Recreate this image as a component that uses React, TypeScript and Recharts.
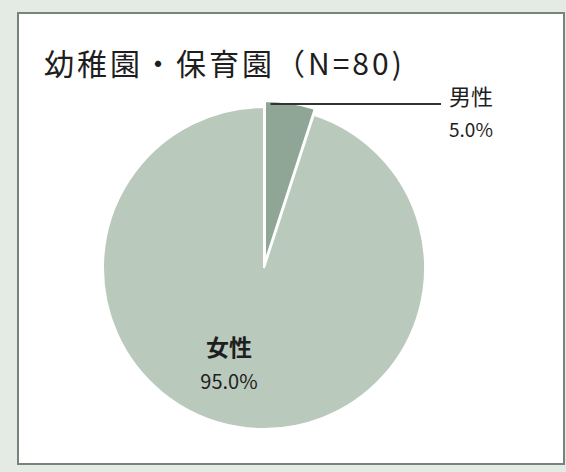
import { PieChart, Pie, Cell } from "recharts";

const categories = ["男性", "女性"];
const shares = [5.0, 95.0];
const title = "幼稚園・保育園（N=80)";

const colors = ["#8fa697", "#b9c9bc"];
const font = "'Noto Sans CJK JP', 'Noto Sans', sans-serif";

const data = categories.map((name, i) => ({ name, value: shares[i] }));

const RAD = Math.PI / 180;

function renderLabel(props: any) {
  const { cx, cy, outerRadius, startAngle, index, name, value } = props;
  if (index === 0) {
    const a = (startAngle - 2) * RAD;
    const sx = cx + (outerRadius - 3) * Math.cos(a);
    const sy = cy - (outerRadius - 3) * Math.sin(a);
    const ex = cx + 176;
    return (
      <g>
        <line x1={sx} y1={sy} x2={ex} y2={sy} stroke="#333" strokeWidth={2} />
        <text x={ex + 8} y={sy + 1} fontSize={22} fill="#1e1e1e" fontFamily={font}>
          {name}
        </text>
        <text x={ex + 8} y={sy + 33} fontSize={19} fill="#1e1e1e" fontFamily={font}>
          {value.toFixed(1)}%
        </text>
      </g>
    );
  }
  return (
    <g>
      <text x={cx - 36} y={cy + 94} fontSize={23} fontWeight={700} textAnchor="middle" fill="#1e1e1e" fontFamily={font}>
        {name}
      </text>
      <text x={cx - 36} y={cy + 127} fontSize={20} textAnchor="middle" fill="#1e1e1e" fontFamily={font}>
        {value.toFixed(1)}%
      </text>
    </g>
  );
}

export default function App() {
  return (
    <div style={{ position: "absolute", left: 0, top: 0, width: 566, height: 472, background: "#e4ebe5", overflow: "hidden" }}>
      <div
        style={{
          position: "absolute",
          left: 17,
          top: 12,
          width: 544,
          height: 449,
          background: "#ffffff",
          border: "2px solid #78847b",
        }}
      />
      <div
        style={{
          position: "absolute",
          left: 44,
          top: 40,
          fontFamily: font,
          fontSize: 30,
          color: "#1e1e1e",
          whiteSpace: "nowrap",
          letterSpacing: 3,
        }}
      >
        {title}
      </div>
      <div style={{ position: "absolute", left: 0, top: 0 }}>
        <PieChart width={566} height={472}>
          {/* female slice, in place */}
          <Pie
            data={data}
            dataKey="value"
            nameKey="name"
            cx={259}
            cy={263}
            outerRadius={161}
            startAngle={90}
            endAngle={-270}
            stroke="#ffffff"
            strokeWidth={2}
            isAnimationActive={false}
          >
            {data.map((d, i) => (
              <Cell key={d.name} fill={i === 0 ? "none" : colors[i]} stroke={i === 0 ? "none" : "#ffffff"} />
            ))}
          </Pie>
          {/* male slice, pulled out a little */}
          <Pie
            data={data}
            dataKey="value"
            nameKey="name"
            cx={260}
            cy={257}
            outerRadius={161}
            startAngle={90}
            endAngle={-270}
            stroke="#ffffff"
            strokeWidth={2}
            label={renderLabel}
            labelLine={false}
            isAnimationActive={false}
          >
            {data.map((d, i) => (
              <Cell key={d.name} fill={i === 0 ? colors[i] : "none"} stroke={i === 0 ? "#ffffff" : "none"} />
            ))}
          </Pie>
        </PieChart>
      </div>
    </div>
  );
}
